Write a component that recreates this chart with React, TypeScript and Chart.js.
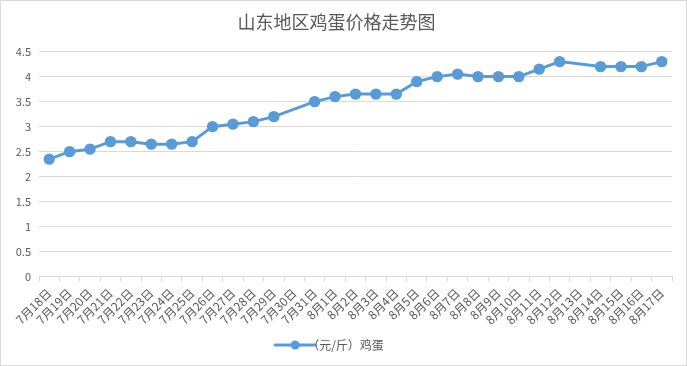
import React, { useEffect, useRef } from "react";
import { Chart, registerables } from "chart.js";
Chart.register(...registerables);

const title = "山东地区鸡蛋价格走势图";
const seriesName = "（元/斤）鸡蛋";
const categories = [
  "7月18日", "7月19日", "7月20日", "7月21日", "7月22日", "7月23日", "7月24日", "7月25日",
  "7月26日", "7月27日", "7月28日", "7月29日", "7月30日", "7月31日", "8月1日", "8月2日",
  "8月3日", "8月4日", "8月5日", "8月6日", "8月7日", "8月8日", "8月9日", "8月10日",
  "8月11日", "8月12日", "8月13日", "8月14日", "8月15日", "8月16日", "8月17日",
];
const prices: (number | null)[] = [
  2.35, 2.5, 2.55, 2.7, 2.7, 2.65, 2.65, 2.7,
  3.0, 3.05, 3.1, 3.2, null, 3.5, 3.6, 3.65,
  3.65, 3.65, 3.9, 4.0, 4.05, 4.0, 4.0, 4.0,
  4.15, 4.3, null, 4.2, 4.2, 4.2, 4.3,
];
const yMin = 0;
const yMax = 4.5;
const yStep = 0.5;

const COLOR = "#5b9bd5";
const TEXT = "#595959";
const GRID = "#d9d9d9";
const FONT = "'Noto Sans CJK SC', 'Microsoft YaHei', sans-serif";

function legendIcon(): HTMLCanvasElement {
  const c = document.createElement("canvas");
  c.width = 44;
  c.height = 12;
  const g = c.getContext("2d")!;
  g.strokeStyle = COLOR;
  g.lineWidth = 3;
  g.lineCap = "round";
  g.beginPath();
  g.moveTo(2, 6);
  g.lineTo(42, 6);
  g.stroke();
  g.fillStyle = COLOR;
  g.beginPath();
  g.arc(22, 6, 4.5, 0, Math.PI * 2);
  g.fill();
  return c;
}

export default function App() {
  const ref = useRef<HTMLCanvasElement>(null);
  useEffect(() => {
    document.body.style.margin = "0";
    const icon = legendIcon();
    const chart = new Chart(ref.current!, {
      type: "line",
      data: {
        labels: categories,
        datasets: [
          {
            label: seriesName,
            data: prices,
            borderColor: COLOR,
            backgroundColor: COLOR,
            borderWidth: 3,
            pointRadius: 4.2,
            pointBackgroundColor: COLOR,
            pointBorderColor: COLOR,
            spanGaps: true,
            tension: 0,
          },
        ],
      },
      options: {
        animation: false,
        responsive: false,
        layout: { padding: { left: 0, right: 14, top: 4, bottom: 4 } },
        plugins: {
          title: {
            display: true,
            text: title,
            color: TEXT,
            font: { family: FONT, size: 18, weight: "normal" },
            padding: { top: 6, bottom: 19 },
          },
          legend: {
            position: "bottom",
            labels: {
              color: TEXT,
              font: { family: FONT, size: 12 },
              usePointStyle: true,
              generateLabels: () => [
                {
                  text: seriesName,
                  pointStyle: icon,
                  fillStyle: COLOR,
                  strokeStyle: COLOR,
                  lineWidth: 0,
                  hidden: false,
                  datasetIndex: 0,
                  fontColor: TEXT,
                },
              ],
              padding: 8,
            },
          },
          tooltip: { enabled: false },
        },
        scales: {
          x: {
            offset: true,
            grid: {
              offset: true,
              drawOnChartArea: false,
              drawTicks: true,
              tickLength: 5,
              color: GRID,
            },
            border: { display: true, color: GRID, width: 1 },
            ticks: {
              color: TEXT,
              font: { family: FONT, size: 12 },
              minRotation: 45,
              maxRotation: 45,
              autoSkip: false,
              padding: 4,
            },
          },
          y: {
            min: yMin,
            max: yMax,
            afterFit: (s: any) => {
              s.width = 38;
            },
            ticks: {
              stepSize: yStep,
              color: TEXT,
              font: { family: FONT, size: 11 },
              padding: 8,
              callback: (v: any) => String(Number(v)),
            },
            grid: { color: GRID, drawTicks: false },
            border: { display: false },
          },
        },
      },
    });
    return () => chart.destroy();
  }, []);
  return (
    <div
      style={{
        width: 687,
        height: 366,
        boxSizing: "border-box",
        border: "1px solid #d9d9d9",
        background: "#fff",
      }}
    >
      <canvas ref={ref} width={685} height={364} style={{ display: "block" }} />
    </div>
  );
}
